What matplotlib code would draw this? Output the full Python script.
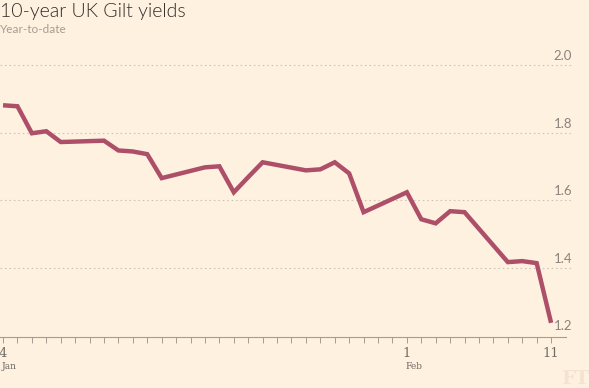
import numpy as np
import pandas as pd
import matplotlib
matplotlib.use("Agg")
import matplotlib.pyplot as plt
import matplotlib.transforms as mtransforms

# 10-year UK gilt yields, trading days, year-to-date
dates = ["2016-01-04", "2016-01-05", "2016-01-06", "2016-01-07", "2016-01-08",
         "2016-01-11", "2016-01-12", "2016-01-13", "2016-01-14", "2016-01-15",
         "2016-01-18", "2016-01-19", "2016-01-20", "2016-01-21", "2016-01-22",
         "2016-01-25", "2016-01-26", "2016-01-27", "2016-01-28", "2016-01-29",
         "2016-02-01", "2016-02-02", "2016-02-03", "2016-02-04", "2016-02-05",
         "2016-02-08", "2016-02-09", "2016-02-10", "2016-02-11"]
yields = [1.881, 1.878, 1.798, 1.804, 1.772,
          1.776, 1.747, 1.744, 1.736, 1.665,
          1.697, 1.700, 1.623, 1.668, 1.712,
          1.688, 1.691, 1.712, 1.679, 1.564,
          1.623, 1.543, 1.531, 1.567, 1.564,
          1.416, 1.419, 1.413, 1.236]
y_ticks = [1.2, 1.4, 1.6, 1.8, 2.0]
x_tick_dates = ["2016-01-04", "2016-02-01", "2016-02-11"]
x_tick_labels = ["4", "1", "11"]
x_month_labels = ["Jan", "Feb", ""]

bg = "#fff1e0"
line_col = "#ad4f69"
grid_col = "#cec6b9"
text_col = "#6f6a64"

start = pd.Timestamp(dates[0])
days = np.array([(pd.Timestamp(d) - start).days for d in dates])
tick_days = [(pd.Timestamp(d) - start).days for d in x_tick_dates]

fig = plt.figure(figsize=(5.89, 3.88), dpi=100, facecolor=bg)
ax = fig.add_axes([0, 51 / 388, 572 / 589, (337 - 55) / 388])
ax.set_facecolor(bg)

ax.plot(days, yields, color=line_col, linewidth=3.2, solid_joinstyle="miter",
        solid_capstyle="butt", zorder=3)

ax.set_xlim(-0.21, 39.45)
ax.set_ylim(1.194, 2.03)

# dotted horizontal gridlines with labels sitting above them at the right
label_tf = ax.get_yaxis_transform() + mtransforms.ScaledTranslation(0, 2 / 72, fig.dpi_scale_trans)
for v in y_ticks:
    if v > y_ticks[0]:
        ax.axhline(v, color=grid_col, linewidth=0.8, linestyle=(0, (1.5, 2.5)), zorder=1)
    ax.text(1.0, v, f"{v:.1f}", transform=label_tf, ha="right", va="bottom",
            fontsize=9.5, color="#8a847d", family="Lato")

for s in ["top", "right", "left"]:
    ax.spines[s].set_visible(False)
ax.spines["bottom"].set_color("#a59d94")
ax.spines["bottom"].set_linewidth(0.8)
ax.spines["bottom"].set_bounds(-0.21, 39.05)
ax.set_yticks([])

all_days = np.arange(0, 39)
ax.set_xticks(all_days)
labels = [""] * len(all_days)
for d, lab in zip(tick_days, x_tick_labels):
    labels[d] = lab
ax.set_xticklabels(labels, fontsize=9.5, family="DejaVu Serif", color=text_col)
ax.tick_params(axis="x", direction="out", length=4.5, width=0.7, color="#a59d94", pad=3)

for d, m in zip(tick_days, x_month_labels):
    if m:
        ax.text(d - 0.1, -0.09, m, transform=ax.get_xaxis_transform(), ha="left", va="top",
                fontsize=6.5, family="DejaVu Serif", color=text_col)

fig.text(0.0, 1 - 3 / 388, "10-year UK Gilt yields", ha="left", va="top",
         fontsize=14, color="#2e2b28", family="Lato", fontweight=300)
fig.text(0.0, 1 - 24 / 388, "Year-to-date", ha="left", va="top",
         fontsize=8.5, color="#a89c8f", family="Lato")
fig.text(1.0, 0.0, "FT", ha="right", va="bottom", fontsize=14,
         color="#f3e3d0", family="DejaVu Serif", fontweight="bold")

fig.savefig("out.png", dpi=100, facecolor=bg)
